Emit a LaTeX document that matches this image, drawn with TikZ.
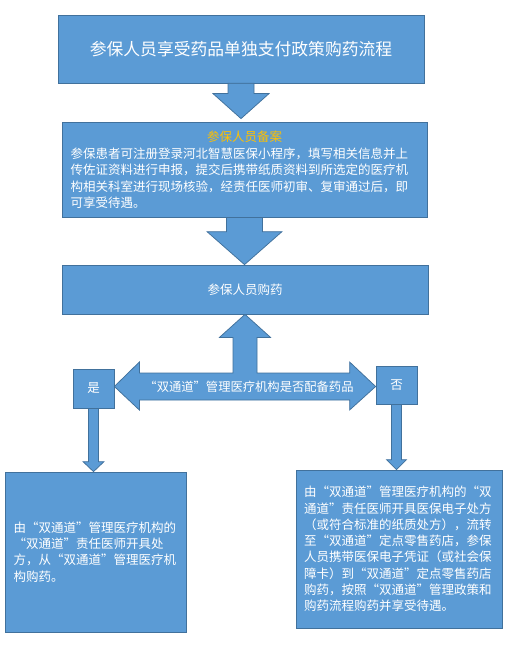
\documentclass[tikz,border=0pt]{standalone}
\usepackage{fontspec}
\setmainfont{Noto Sans CJK SC}
\usetikzlibrary{calc}
\definecolor{boxblue}{HTML}{5B9BD5}
\definecolor{boxedge}{HTML}{41719C}
\definecolor{ttlyellow}{HTML}{FFC000}
\tikzset{
  box/.style={draw=boxedge, fill=boxblue, line width=0.75pt, inner sep=0pt, text=white, font=\fontsize{12.5}{16.3}\selectfont},
  arr/.style={draw=boxedge, fill=boxblue, line width=0.75pt, line join=miter},
}
\newcommand\blockdown[5]{% #1 from, #2 tip, #3 half shaft, #4 half head, #5 head length
  \coordinate (tp) at (#1 |- #2);
  \draw[arr] ($(#1)+(-#3,0)$) -- ($(#1)+(#3,0)$) -- ($(tp)+(#3,-#5)$) -- ($(tp)+(#4,-#5)$)
    -- (tp) -- ($(tp)+(-#4,-#5)$) -- ($(tp)+(-#3,-#5)$) -- cycle;
}
\begin{document}
\begin{tikzpicture}[x=1pt,y=-1pt]
\useasboundingbox[fill=white] (0,0) rectangle (508,655);

\node[box, minimum width=366pt, minimum height=68pt, font=\fontsize{16.8}{20}\selectfont] (title) at (241,49) {参保人员享受药品单独支付政策购药流程};

\node[box, minimum width=365pt, minimum height=95pt, text width=348pt, align=left] (plan) at (244.5,169.5)
  {\makebox[348pt]{\textcolor{ttlyellow}{参保人员备案}}\\[1pt]
   参保患者可注册登录河北智慧医保小程序，填写相关信息并上\\
   传佐证资料进行申报，提交后携带纸质资料到所选定的医疗机\\
   构相关科室进行现场核验，经责任医师初审、复审通过后，即\\
   可享受待遇。};

\node[box, minimum width=366pt, minimum height=49pt] (buy) at (245,289.5) {参保人员购药};

\node[box, minimum width=41pt, minimum height=39pt] (yes) at (93.5,388.5) {是};
\node[box, minimum width=41pt, minimum height=38pt] (no) at (396.5,385) {否};

\node[box, minimum width=181pt, minimum height=160pt, text width=164pt, align=left] (left) at (95.5,552)
  {由“双通道”管理医疗机构的\\
   “双通道”责任医师开具处\\
   方，从“双通道”管理医疗机\\
   构购药。};

\node[box, minimum width=206pt, minimum height=158pt, text width=190pt, align=left] (right) at (399,549)
  {由“双通道”管理医疗机构的“双\\
   通道”责任医师开具医保电子处方\\
   （或符合标准的纸质处方），流转\\
   至“双通道”定点零售药店，参保\\
   人员携带医保电子凭证（或社会保\\
   障卡）到“双通道”定点零售药店\\
   购药，按照“双通道”管理政策和\\
   购药流程购药并享受待遇。};

% block arrows
\coordinate (plantip) at ($(plan.north)+(0,-3)$);
\blockdown{title.south}{plantip}{13}{28}{25}
\blockdown{plan.south}{buy.north}{18}{37.5}{33}
\blockdown{yes.south}{left.north}{5}{10.5}{10}
\blockdown{no.south}{right.north}{5}{10}{10}

% T-shaped arrow: up to buy, left to yes, right to no
\coordinate (j) at (245,386.5);
\coordinate (lt) at (yes.east |- j);
\coordinate (rt) at (no.west |- j);
\draw[arr] (buy.south) -- ($(buy.south)+(25.5,23)$) -- ($(buy.south)+(12,23)$)
  -- ($(j)+(12,-13.5)$) -- ($(rt)+(-26,-13.5)$) -- ($(rt)+(-26,-24.5)$) -- (rt)
  -- ($(rt)+(-26,23.5)$) -- ($(rt)+(-26,13.5)$) -- ($(lt)+(25,13.5)$) -- ($(lt)+(25,23.5)$)
  -- (lt) -- ($(lt)+(25,-24.5)$) -- ($(lt)+(25,-13.5)$) -- ($(j)+(-12,-13.5)$)
  -- ($(buy.south)+(-12,23)$) -- ($(buy.south)+(-25.5,23)$) -- cycle;
\node[text=white, inner sep=0pt, font=\fontsize{12.3}{15}\selectfont] (q) at (249,387) {“双通道”管理医疗机构是否配备药品};
\end{tikzpicture}
\end{document}
